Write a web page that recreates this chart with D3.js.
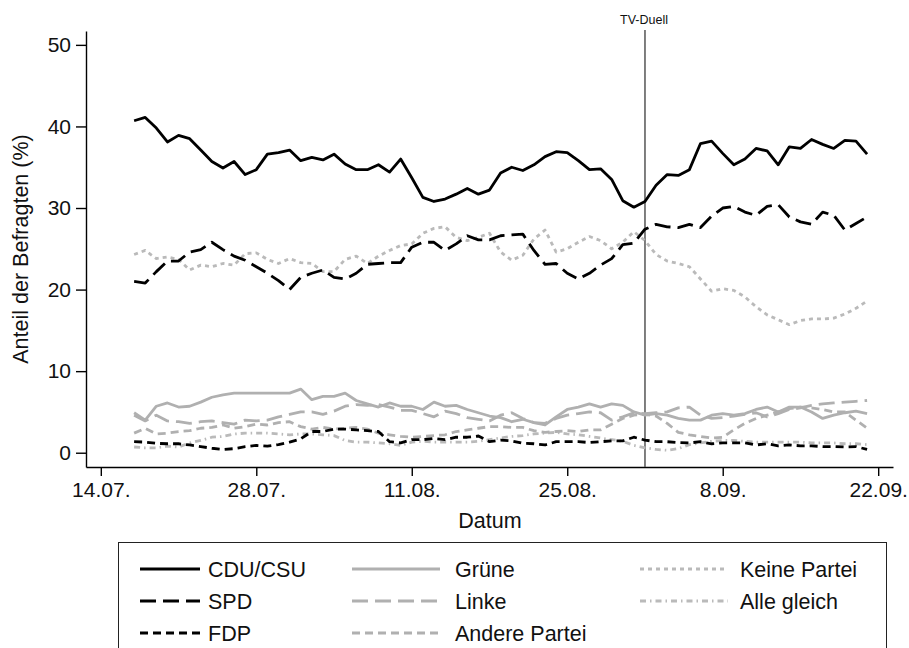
<!DOCTYPE html>
<html>
<head>
<meta charset="utf-8">
<script src="https://cdn.jsdelivr.net/npm/d3@7"></script>
<style>
	body { margin: 0; background: #fff; }
	svg { font-family: 'Liberation Sans', Arial, Helvetica, sans-serif; }
</style>
</head>
<body>
<div id="chart"></div>
<script>
'use strict';

// daily values, 17.07. - 21.09.2013
var startDate = new Date(2013, 6, 17);

var cdu = [40.7, 41.1, 39.8, 38.1, 38.9, 38.5, 37.1, 35.7, 34.9, 35.7, 34.1, 34.7, 36.6, 36.8, 37.1, 35.8, 36.2, 35.9, 36.6, 35.4, 34.7, 34.7, 35.3, 34.4,
	36.0, 33.7, 31.3, 30.8, 31.1, 31.7, 32.4, 31.7, 32.2, 34.3, 35.0, 34.6, 35.3, 36.3, 36.9, 36.8, 35.8, 34.7, 34.8, 33.5, 30.9, 30.1, 30.8,
	32.8, 34.1, 34.0, 34.7, 37.9, 38.2, 36.7, 35.3, 36.0, 37.3, 37.0, 35.3, 37.5, 37.3, 38.4, 37.8, 37.3, 38.3, 38.2, 36.6];
var spd = [21.0, 20.8, 22.2, 23.5, 23.5, 24.6, 24.9, 25.8, 24.9, 24.1, 23.6, 22.8, 22.0, 21.1, 20.0, 21.5, 22.0, 22.4, 21.5, 21.3, 22.0, 23.1, 23.2, 23.3,
	23.3, 25.2, 25.8, 25.8, 24.8, 25.6, 26.6, 26.1, 26.1, 26.6, 26.7, 26.8, 24.8, 23.1, 23.2, 22.0, 21.3, 22.0, 23.0, 23.8, 25.5, 25.7, 27.4,
	28.0, 27.7, 27.6, 28.0, 27.6, 29.0, 30.0, 30.2, 29.5, 29.1, 30.2, 30.4, 28.9, 28.3, 28.0, 29.5, 29.1, 27.3, 28.1, 28.9];
var fdp = [1.35, 1.3, 1.15, 1.1, 1.1, 0.95, 0.75, 0.55, 0.4, 0.5, 0.75, 0.9, 0.8, 1.0, 1.3, 1.7, 2.6, 2.6, 2.9, 2.9, 2.8, 2.7,
	2.6, 1.35, 1.2, 1.6, 1.6, 1.75, 1.6, 1.9, 1.9, 2.05, 1.35, 1.55, 1.45, 1.15, 1.1, 0.95, 1.35, 1.35, 1.35, 1.25, 1.35, 1.45,
	1.45, 1.9, 1.55, 1.35, 1.35, 1.25, 1.2, 1.35, 1.1, 1.2, 1.2, 1.2, 0.95, 1.1, 0.85, 0.95, 0.85, 0.85, 0.75, 0.75, 0.7, 0.75, 0.4];
var gruene = [4.9, 4.0, 5.7, 6.1, 5.6, 5.7, 6.2, 6.8, 7.1, 7.3, 7.3, 7.3, 7.3, 7.3, 7.3, 7.8, 6.5, 6.9, 6.9, 7.3, 6.4, 6.0,
	5.6, 6.1, 5.7, 5.7, 5.3, 6.2, 5.7, 5.8, 5.3, 4.9, 4.5, 4.3, 3.8, 4.1, 3.7, 3.4, 4.4, 5.3, 5.6, 6.0, 5.6, 6.0,
	5.8, 5.0, 4.6, 4.8, 4.6, 4.2, 4.0, 4.0, 4.6, 4.8, 4.6, 4.8, 5.3, 5.6, 5.0, 5.6, 5.6, 5.0, 4.2, 4.6, 4.9, 5.1, 4.8];
var linke = [4.6, 3.9, 4.6, 3.9, 3.8, 3.6, 3.8, 3.9, 3.7, 3.5, 4.0, 3.9, 4.0, 4.4, 4.7, 5.0, 5.0, 4.7, 5.1, 5.7, 5.9, 5.8,
	5.9, 5.6, 5.2, 5.2, 4.8, 4.4, 5.1, 4.8, 4.3, 4.1, 3.9, 4.6, 4.9, 4.2, 3.7, 3.6, 4.2, 4.6, 4.8, 5.0, 4.9, 4.0, 4.4, 4.9, 4.8,
	4.9, 5.0, 5.5, 5.6, 4.6, 4.2, 4.3, 4.5, 4.7, 4.9, 4.4, 4.8, 5.3, 5.5, 5.8, 6.0, 6.1, 6.2, 6.3, 6.4];
var andere = [2.4, 3.0, 2.3, 2.4, 2.6, 2.7, 3.0, 3.1, 3.4, 3.0, 3.2, 3.5, 3.4, 3.7, 3.8, 3.2, 2.9, 3.1, 2.9, 3.0, 3.1, 2.9,
	2.4, 2.2, 2.0, 1.9, 2.0, 2.1, 2.2, 2.6, 2.8, 3.0, 3.2, 3.2, 3.1, 3.1, 2.7, 2.5, 2.6, 2.7, 2.6, 2.8, 2.8, 3.5, 4.2, 4.6, 4.7,
	4.5, 3.6, 2.5, 2.2, 2.0, 1.8, 1.9, 2.8, 3.6, 4.2, 4.6, 5.0, 5.4, 5.6, 5.5, 5.3, 5.0, 5.0, 4.0, 3.0];
var keine = [24.3, 24.8, 23.8, 24.0, 23.7, 22.4, 23.0, 22.8, 23.2, 23.0, 24.4, 24.5, 23.7, 23.2, 23.8, 23.3, 23.2, 22.2, 22.2, 23.7, 24.1, 23.2, 24.1, 24.8,
	25.4, 25.6, 26.9, 27.5, 27.7, 26.4, 26.0, 26.4, 26.9, 24.6, 23.6, 24.2, 26.2, 27.3, 24.6, 25.0, 25.8, 26.5, 26.0, 25.0, 25.8, 27.1, 26.0,
	24.3, 23.5, 23.2, 22.8, 21.3, 19.8, 20.1, 19.9, 19.1, 17.9, 16.9, 16.3, 15.7, 16.2, 16.4, 16.4, 16.5, 17.0, 17.7, 18.6];
var alleGleich = [0.7, 0.6, 0.6, 0.8, 0.7, 1.2, 1.5, 1.9, 2.0, 2.3, 2.4, 2.4, 2.4, 2.3, 2.2, 2.3, 2.3, 2.2, 2.1, 1.5, 1.3, 1.3,
	1.2, 1.1, 0.9, 1.3, 1.4, 1.3, 1.3, 1.3, 1.3, 1.4, 1.6, 1.8, 2.0, 2.1, 2.3, 2.4, 2.5, 2.3, 2.2, 2.0, 1.8, 1.6, 1.4, 0.9, 0.6,
	0.4, 0.3, 0.5, 1.0, 1.2, 1.4, 1.5, 1.5, 1.4, 1.3, 1.3, 1.3, 1.3, 1.3, 1.2, 1.2, 1.2, 1.1, 1.1, 1.0];

var yTicks = [0, 10, 20, 30, 40, 50];
var xTicks = [new Date(2013, 6, 14), new Date(2013, 6, 28), new Date(2013, 7, 11),
	new Date(2013, 7, 25), new Date(2013, 8, 8), new Date(2013, 8, 22)];
var tvDuell = new Date(2013, 8, 1);

// legend order: column by column
var series = [
	{ name: 'CDU/CSU', values: cdu, color: '#000', dash: null, col: 0, row: 0 },
	{ name: 'SPD', values: spd, color: '#000', dash: '16,7', col: 0, row: 1 },
	{ name: 'FDP', values: fdp, color: '#000', dash: '8,5', col: 0, row: 2 },
	{ name: 'Grüne', values: gruene, color: '#b0b0b0', dash: null, col: 1, row: 0 },
	{ name: 'Linke', values: linke, color: '#b0b0b0', dash: '16,7', col: 1, row: 1 },
	{ name: 'Andere Partei', values: andere, color: '#b0b0b0', dash: '8,5', col: 1, row: 2 },
	{ name: 'Keine Partei', values: keine, color: '#bababa', dash: '4,4', col: 2, row: 0 },
	{ name: 'Alle gleich', values: alleGleich, color: '#bababa', dash: '6,4,1.5,4', col: 2, row: 1 }
];

var width = 909, height = 648;

var svg = d3.select('#chart').append('svg')
	.attr('width', width)
	.attr('height', height);

// scales (axis lines run a bit past the first/last tick, Stata style)
var x = d3.scaleTime()
	.domain([d3.timeHour.offset(xTicks[0], -32), d3.timeHour.offset(xTicks[5], 32)])
	.range([86, 893]);
var y = d3.scaleLinear()
	.domain([-1.75, 51.7])
	.range([467, 31]);

// y axis
var yAxis = svg.append('g')
	.attr('transform', 'translate(86,0)')
	.call(d3.axisLeft(y).tickValues(yTicks).tickSize(10).tickPadding(5).tickSizeOuter(0));
// x axis
var xAxis = svg.append('g')
	.attr('transform', 'translate(0,467)')
	.call(d3.axisBottom(x).tickValues(xTicks).tickFormat(d3.timeFormat('%-d.%m.')).tickSize(9).tickPadding(6).tickSizeOuter(0));

[yAxis, xAxis].forEach(function(g) {
	g.select('.domain').attr('stroke', '#000').attr('stroke-width', 1.4);
	g.selectAll('.tick line').attr('stroke', '#000').attr('stroke-width', 1.4);
	g.selectAll('.tick text').attr('fill', '#111').style('font-size', '21px');
});

// axis titles
svg.append('text')
	.attr('transform', 'translate(28,249) rotate(-90)')
	.attr('text-anchor', 'middle')
	.style('font-size', '21.5px')
	.attr('fill', '#111')
	.text('Anteil der Befragten (%)');
svg.append('text')
	.attr('x', 490)
	.attr('y', 528)
	.attr('text-anchor', 'middle')
	.style('font-size', '21.5px')
	.attr('fill', '#111')
	.text('Datum');

// TV-Duell marker
svg.append('line')
	.attr('x1', x(tvDuell)).attr('x2', x(tvDuell))
	.attr('y1', 30).attr('y2', 467)
	.attr('stroke', '#555')
	.attr('stroke-width', 1.5);
svg.append('text')
	.attr('x', x(tvDuell) - 1)
	.attr('y', 24)
	.attr('text-anchor', 'middle')
	.style('font-size', '12.5px')
	.attr('fill', '#111')
	.text('TV-Duell');

// lines, gray ones first so black sits on top
var line = d3.line()
	.x(function(d, i) { return x(d3.timeDay.offset(startDate, i)); })
	.y(function(d) { return y(d); });

var drawOrder = series.slice().reverse();
svg.append('g').selectAll('path')
	.data(drawOrder)
	.enter().append('path')
	.attr('d', function(d) { return line(d.values); })
	.attr('fill', 'none')
	.attr('stroke', function(d) { return d.color; })
	.attr('stroke-width', 2.8)
	.attr('stroke-linejoin', 'round')
	.attr('stroke-dasharray', function(d) { return d.dash; });

// legend
svg.append('rect')
	.attr('x', 118.5).attr('y', 542.5)
	.attr('width', 768).attr('height', 130)
	.attr('fill', '#fff')
	.attr('stroke', '#222')
	.attr('stroke-width', 1);

var colX = [[140, 200, 208], [352, 440, 455], [640, 728, 740]];
var rowY = [569, 601, 633];

var item = svg.append('g').selectAll('g')
	.data(series)
	.enter().append('g');
item.append('line')
	.attr('x1', function(d) { return colX[d.col][0]; })
	.attr('x2', function(d) { return colX[d.col][1]; })
	.attr('y1', function(d) { return rowY[d.row]; })
	.attr('y2', function(d) { return rowY[d.row]; })
	.attr('stroke', function(d) { return d.color; })
	.attr('stroke-width', 2.8)
	.attr('stroke-dasharray', function(d) { return d.dash; });
item.append('text')
	.attr('x', function(d) { return colX[d.col][2]; })
	.attr('y', function(d) { return rowY[d.row] + 8; })
	.style('font-size', '21.5px')
	.attr('fill', '#111')
	.text(function(d) { return d.name; });
</script>
</body>
</html>
